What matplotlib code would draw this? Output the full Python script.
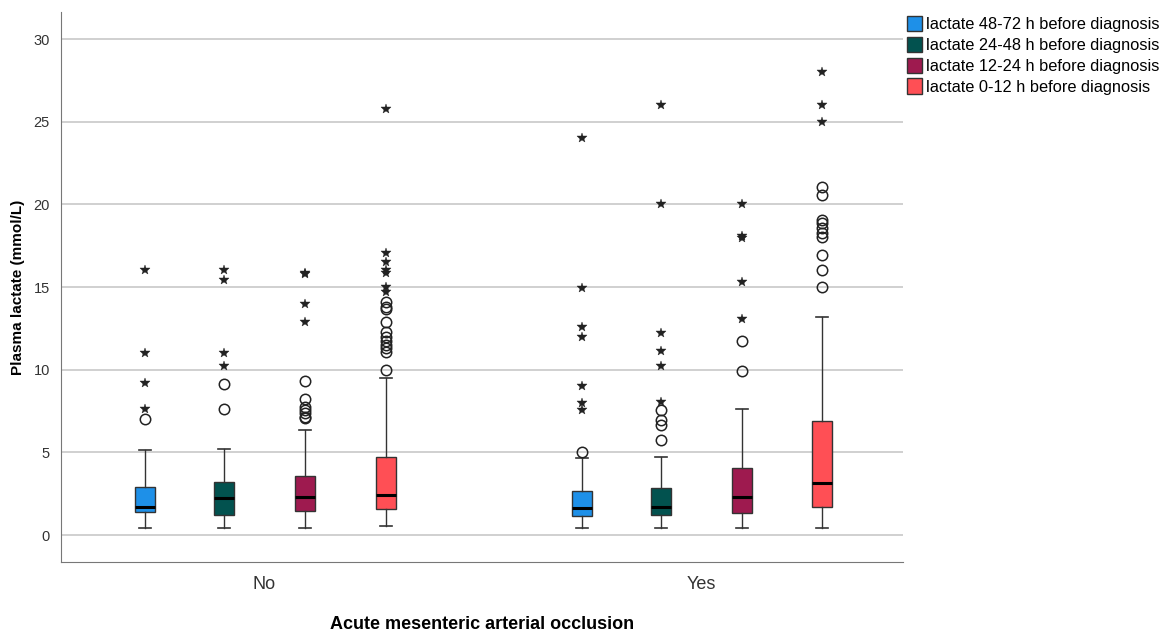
import matplotlib
matplotlib.use("Agg")
import matplotlib.pyplot as plt
from matplotlib.patches import Patch

plt.rcParams["font.family"] = ["Liberation Sans", "DejaVu Sans"]

groups = ["No", "Yes"]
series = ["lactate 48-72 h before diagnosis", "lactate 24-48 h before diagnosis",
          "lactate 12-24 h before diagnosis", "lactate 0-12 h before diagnosis"]
colors = ["#1E90E8", "#02524F", "#9E1A4F", "#FF4F55"]

# box stats per group, per series: (whislo, q1, med, q3, whishi)
box_no = [(0.44, 1.41, 1.71, 2.92, 5.12),
          (0.44, 1.21, 2.22, 3.23, 5.20),
          (0.44, 1.47, 2.32, 3.55, 6.33),
          (0.53, 1.55, 2.42, 4.74, 9.52)]
box_yes = [(0.44, 1.15, 1.63, 2.68, 4.64),
           (0.44, 1.21, 1.71, 2.82, 4.74),
           (0.44, 1.31, 2.28, 4.03, 7.62),
           (0.44, 1.71, 3.17, 6.92, 13.21)]

# outliers (circles) and extremes (stars)
out_no = [[7.02],
          [7.62, 9.12],
          [7.06, 7.16, 7.36, 7.56, 7.76, 8.23, 9.32],
          [9.98, 11.09, 11.29, 11.49, 11.76, 11.96, 12.30, 12.90, 13.65, 13.77, 14.11]]
ext_no = [[7.62, 9.21, 11.03, 16.03],
          [10.22, 11.03, 15.43, 16.03],
          [12.9, 14.0, 15.79, 15.85],
          [14.72, 15.02, 15.87, 16.03, 16.54, 17.04, 25.8]]
out_yes = [[5.04],
           [5.75, 6.65, 6.96, 7.56],
           [9.92, 11.74],
           [15.02, 16.03, 16.94, 18.05, 18.25, 18.55, 18.86, 19.06, 20.57, 21.03]]
ext_yes = [[7.56, 7.97, 9.03, 12.0, 12.6, 14.92, 24.03],
           [8.07, 10.22, 11.15, 12.24, 20.0, 26.0],
           [13.05, 15.33, 18.0, 18.1, 20.0],
           [25.0, 26.0, 28.0]]

fig = plt.figure(figsize=(11.66, 6.35), dpi=100)
ax = fig.add_axes([0.0523, 0.115, 0.722, 0.866])

offsets = [-0.273, -0.092, 0.093, 0.278]
width = 0.046
boxes = [box_no, box_yes]
outs = [out_no, out_yes]
exts = [ext_no, ext_yes]

for gi in range(len(groups)):
    for si in range(len(series)):
        lo, q1, med, q3, hi = boxes[gi][si]
        pos = gi + offsets[si]
        stats = [dict(whislo=lo, q1=q1, med=med, q3=q3, whishi=hi, fliers=[])]
        ax.bxp(stats, positions=[pos], widths=width, patch_artist=True,
               showfliers=False, manage_ticks=False,
               boxprops=dict(facecolor=colors[si], edgecolor="#333333", linewidth=1),
               medianprops=dict(color="black", linewidth=2.2),
               whiskerprops=dict(color="#333333", linewidth=1),
               capprops=dict(color="#333333", linewidth=1.2),
               capwidths=width * 0.6)
        ax.plot([pos] * len(outs[gi][si]), outs[gi][si], "o", mfc="none",
                mec="#222222", ms=7.5, mew=1.1, zorder=3)
        ax.plot([pos] * len(exts[gi][si]), exts[gi][si], "*", color="#222222",
                ms=7, mew=0.3, zorder=3)

ax.set_xlim(-0.465, 1.462)
ax.set_ylim(-1.63, 31.64)
ax.set_yticks([0, 5, 10, 15, 20, 25, 30])
ax.set_xticks([0, 1])
ax.set_xticklabels(groups, fontsize=13, color="#333333")
ax.tick_params(axis="x", length=0, pad=10)
ax.tick_params(axis="y", length=0, pad=8, labelsize=10.5, labelcolor="#333333")
ax.yaxis.grid(True, color="#C8C8C8", linewidth=1.2)
ax.set_axisbelow(True)
for s in ["top", "right"]:
    ax.spines[s].set_visible(False)
for s in ["left", "bottom"]:
    ax.spines[s].set_color("#777777")

ax.set_xlabel("Acute mesenteric arterial occlusion", fontsize=13, fontweight="bold", labelpad=17)
ax.set_ylabel("Plasma lactate (mmol/L)", fontsize=11, fontweight="bold", labelpad=6)

handles = [Patch(facecolor=c, edgecolor="#333333", label=l) for c, l in zip(colors, series)]
fig.legend(handles=handles, loc="upper left", bbox_to_anchor=(0.772, 0.985), frameon=False,
           fontsize=11.8, handlelength=0.95, handleheight=1.05, handletextpad=0.2,
           labelspacing=0.28, borderaxespad=0)

fig.savefig("out.png", dpi=100)
